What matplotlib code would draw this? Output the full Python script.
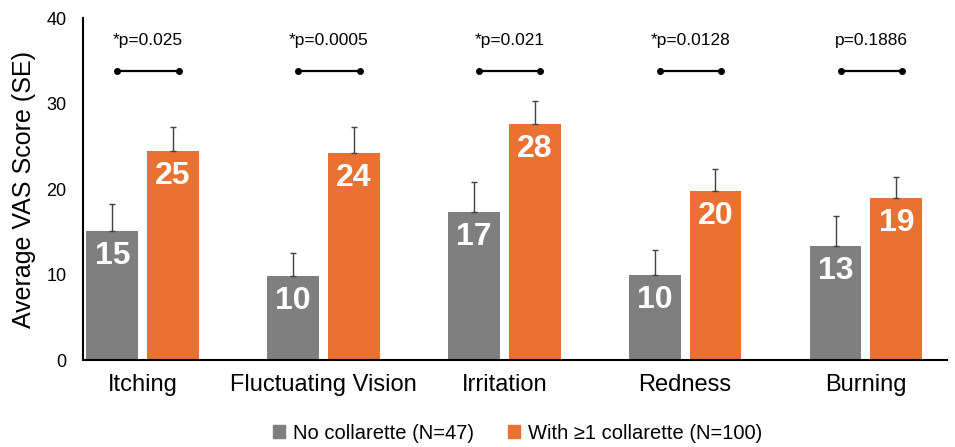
import numpy as np
import matplotlib
matplotlib.use("Agg")
import matplotlib.pyplot as plt
from matplotlib.patches import Patch

plt.rcParams["font.family"] = ["Liberation Sans", "DejaVu Sans"]

categories = ["Itching", "Fluctuating Vision", "Irritation", "Redness", "Burning"]
no_coll = [15.1, 9.8, 17.3, 9.9, 13.3]
no_coll_se = [3.2, 2.7, 3.5, 3.0, 3.5]
with_coll = [24.5, 24.2, 27.6, 19.8, 18.9]
with_coll_se = [2.8, 3.0, 2.7, 2.6, 2.5]
no_labels = ["15", "10", "17", "10", "13"]
with_labels = ["25", "24", "28", "20", "19"]
p_labels = ["*p=0.025", "*p=0.0005", "*p=0.021", "*p=0.0128", "p=0.1886"]
legend_labels = ["No collarette (N=47)", "With \u22651 collarette (N=100)"]

GREY = "#7F7F7F"
ORANGE = "#E97132"

fig = plt.figure(figsize=(9.55, 4.47), dpi=100)
ax = fig.add_axes([0.0869, 0.1946, 0.905, 0.765])

x = np.arange(len(categories))
w = 0.286
off = 0.168
err_style = dict(ecolor="#404040", elinewidth=1, capsize=2.5, capthick=1)

ax.bar(x - off, no_coll, w, color=GREY,
       yerr=[np.zeros(len(x)), no_coll_se], error_kw=err_style)
ax.bar(x + off, with_coll, w, color=ORANGE,
       yerr=[np.zeros(len(x)), with_coll_se], error_kw=err_style)

for i in range(len(x)):
    ax.annotate(no_labels[i], (x[i] - off, no_coll[i]), xytext=(0, -18),
                textcoords="offset points", ha="center", va="center",
                color="white", fontsize=23, fontweight="bold")
    ax.annotate(with_labels[i], (x[i] + off, with_coll[i]), xytext=(0, -18),
                textcoords="offset points", ha="center", va="center",
                color="white", fontsize=23, fontweight="bold")
    # significance bracket
    cx = x[i] + 0.03
    ax.plot([cx - 0.17, cx + 0.17], [33.8, 33.8], color="black", lw=1.6,
            marker="o", markersize=4, solid_capstyle="butt")
    ax.text(cx, 37.4, p_labels[i], ha="center", va="center", fontsize=12.5)

ax.set_xlim(-0.33, 4.45)
ax.set_ylim(0, 40)
ax.set_yticks([0, 10, 20, 30, 40])
ax.set_xticks(x)
ax.set_xticklabels(categories, fontsize=17)
ax.tick_params(axis="y", length=0, pad=12, labelsize=13)
ax.tick_params(axis="x", length=0, pad=10)
ax.set_ylabel("Average VAS Score (SE)", fontsize=18, labelpad=7)
ax.spines["top"].set_visible(False)
ax.spines["right"].set_visible(False)
ax.spines["left"].set_linewidth(1.5)
ax.spines["bottom"].set_linewidth(1.5)

handles = [Patch(color=GREY), Patch(color=ORANGE)]
fig.legend(handles, legend_labels, loc="center", bbox_to_anchor=(0.542, 0.031),
           ncol=2, frameon=False, fontsize=14.5, handlelength=0.6,
           handleheight=0.6, handletextpad=0.4, columnspacing=1.7)

fig.savefig("out.png", dpi=100)
